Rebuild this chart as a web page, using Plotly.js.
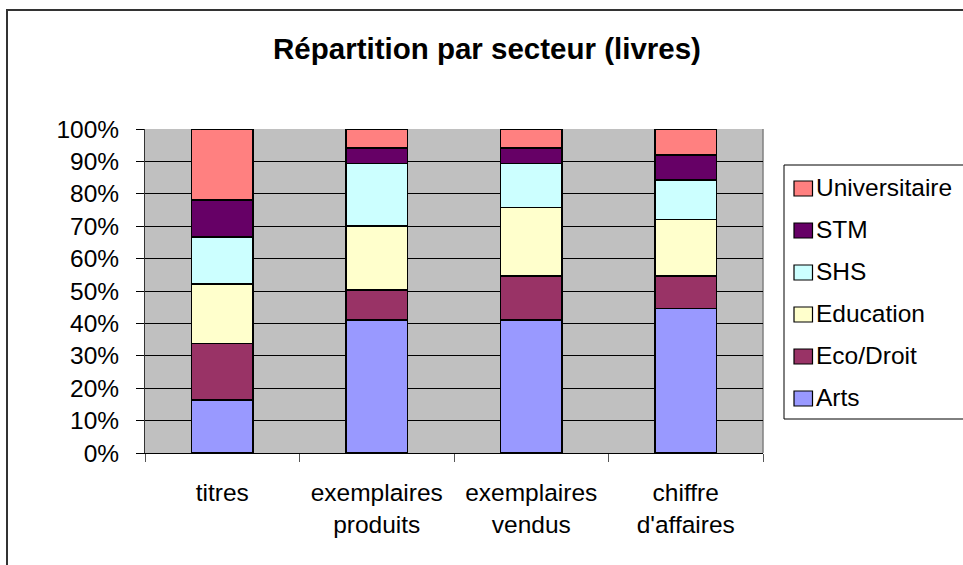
<!DOCTYPE html>
<html>
<head>
<meta charset="utf-8">
<script src="https://cdn.plot.ly/plotly-3.0.1.min.js"></script>
<style>
html,body{margin:0;padding:0;background:#fff;overflow:hidden;}
#wrap{position:relative;width:963px;height:565px;}
#chart{width:963px;height:565px;}
#frame{position:absolute;left:6px;top:9px;width:980px;height:600px;box-sizing:border-box;border-left:2px solid #333;border-top:2px solid #333;pointer-events:none;}
</style>
</head>
<body>
<div id="wrap"><div id="chart"></div><div id="frame"></div></div>
<script>
const categories = ["titres", "exemplaires<br>produits", "exemplaires<br>vendus", "chiffre<br>d'affaires"];
const seriesNames = ["Arts", "Eco/Droit", "Education", "SHS", "STM", "Universitaire"];
const arts = [16.3, 41.0, 41.0, 44.6];
const ecoDroit = [17.5, 9.3, 13.7, 10.1];
const education = [18.4, 19.8, 21.0, 17.3];
const shs = [14.4, 19.2, 13.7, 12.3];
const stm = [11.5, 4.9, 4.8, 7.6];
const universitaire = [21.9, 5.8, 5.8, 8.1];
const seriesValues = [arts, ecoDroit, education, shs, stm, universitaire];
const colors = ["#9999FF", "#993366", "#FFFFCC", "#CCFFFF", "#660066", "#FF8080"];

const traces = seriesNames.map((name, i) => ({
  type: 'bar',
  name: name,
  x: categories,
  y: seriesValues[i].map(v => v / 100),
  marker: {color: colors[i], line: {color: '#000', width: 1.5}},
  width: 0.4,
  hoverinfo: 'skip',
  showlegend: false
}));

const fam = 'Liberation Sans, Arial, sans-serif';
const font = {family: fam, size: 24.5, color: '#000'};

// plot-area geometry (pixels) used to place the legend box in paper coordinates
const W = 963, H = 565, L = 145, R = 200, T = 129, B = 112;
const pw = W - L - R, ph = H - T - B;
const px = v => (v - L) / pw;
const py = v => (H - B - v) / ph;

const shapes = [
  {type: 'line', xref: 'paper', yref: 'paper', x0: 1, x1: 1, y0: 0, y1: 1, line: {color: '#808080', width: 1.5}, layer: 'below'},
  {type: 'rect', xref: 'paper', yref: 'paper', x0: px(784), x1: px(990), y0: py(165), y1: py(419), line: {color: '#000', width: 1}, fillcolor: '#fff', layer: 'above'}
];
const annotations = [];
const legendOrder = seriesNames.map((n, i) => i).reverse();
legendOrder.forEach((si, k) => {
  const base = 196 + 42 * k;
  shapes.push({type: 'rect', xref: 'paper', yref: 'paper', x0: px(794), x1: px(812.5), y0: py(base), y1: py(base - 15), line: {color: '#000', width: 1.2}, fillcolor: colors[si], layer: 'above'});
  annotations.push({xref: 'paper', yref: 'paper', x: px(815), y: py(base - 8.5), xanchor: 'left', yanchor: 'middle', text: seriesNames[si], showarrow: false, font: font, borderpad: 0});
});

const layout = {
  width: W, height: H,
  margin: {l: L, r: R, t: T, b: B, autoexpand: false},
  paper_bgcolor: '#fff',
  plot_bgcolor: '#C0C0C0',
  barmode: 'stack',
  font: font,
  showlegend: false,
  title: {text: '<b>Répartition par secteur (livres)</b>', font: {family: fam, size: 29.5, color: '#000'}, x: 487/963, xanchor: 'center', xref: 'container', y: 1 - 49/565, yanchor: 'middle', yref: 'container'},
  xaxis: {
    showgrid: false, showline: true, linecolor: '#000', linewidth: 1,
    ticks: 'outside', tickson: 'boundaries', ticklen: 8, tickcolor: '#555',
    tickfont: font, ticklabelstandoff: 18, fixedrange: true
  },
  yaxis: {
    range: [0, 1], tickformat: '.0%', dtick: 0.1, tick0: 0,
    showgrid: true, gridcolor: '#000', gridwidth: 1,
    showline: true, linecolor: '#333', linewidth: 1,
    ticks: 'outside', ticklen: 8, tickcolor: '#000',
    tickfont: font, ticklabelstandoff: 12, zeroline: false, fixedrange: true
  },
  shapes: shapes,
  annotations: annotations
};

Plotly.newPlot('chart', traces, layout, {displayModeBar: false, staticPlot: true});
</script>
</body>
</html>
